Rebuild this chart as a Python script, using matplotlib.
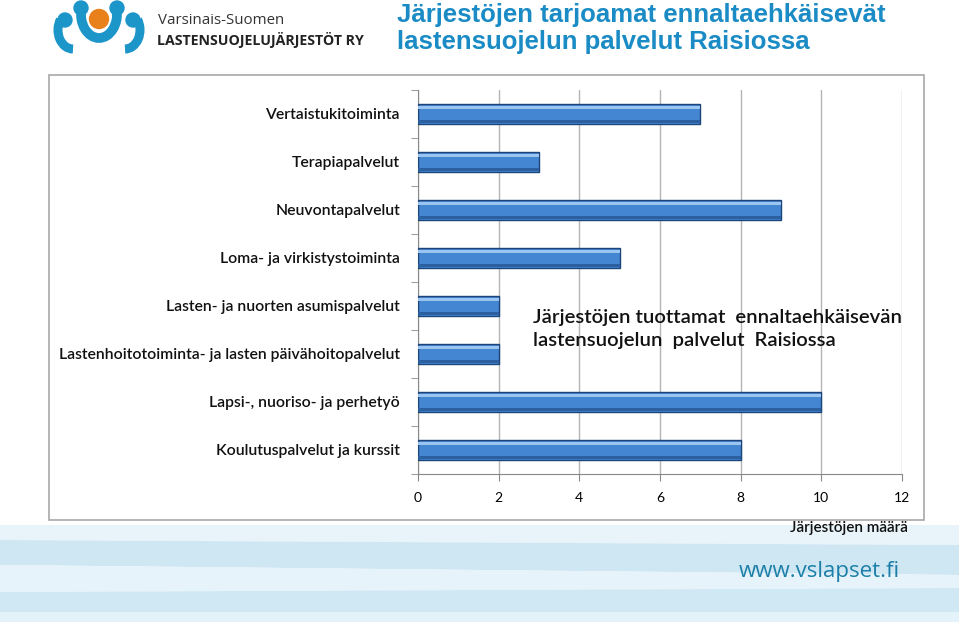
import numpy as np
import matplotlib.pyplot as plt
from matplotlib import font_manager
from matplotlib.patches import Circle, Polygon, Rectangle, Arc

#------------------------------------ Data -------------------------------------
categories = ["Vertaistukitoiminta",
              "Terapiapalvelut",
              "Neuvontapalvelut",
              "Loma- ja virkistystoiminta",
              "Lasten- ja nuorten asumispalvelut",
              "Lastenhoitotoiminta- ja lasten päivähoitopalvelut",
              "Lapsi-, nuoriso- ja perhetyö",
              "Koulutuspalvelut ja kurssit"]
counts = [7, 3, 9, 5, 2, 2, 10, 8]
x_ticks = [0, 2, 4, 6, 8, 10, 12]

title_lines = ["Järjestöjen tarjoamat ennaltaehkäisevät",
               "lastensuojelun palvelut Raisiossa"]
note = "Järjestöjen tuottamat  ennaltaehkäisevän\nlastensuojelun  palvelut  Raisiossa"
xlabel = "Järjestöjen määrä"

#------------------------------------ Style ------------------------------------
blue_title = "#1a8bc4"
bar_color = "#4586d2"
bar_edge = "#1d4478"
bar_light = "#9cc4f0"
grid_color = "#b4b4b4"
W, H = 959, 622

# narrow font for the logo text, if there is one
try:
    font_manager.findfont("Liberation Sans Narrow", fallback_to_default=False)
    narrow = "Liberation Sans Narrow"
    narrow_size = 12
except Exception:
    narrow = "Open Sans"
    narrow_size = 10.2

fig = plt.figure(figsize=(W / 100, H / 100), dpi=100)
fig.patch.set_facecolor("white")

# background layer in pixel coordinates (y grows down)
bg = fig.add_axes((0, 0, 1, 1), zorder=-5)
bg.set_xlim(0, W)
bg.set_ylim(H, 0)
bg.axis("off")
bands = [([0, 525, W, 525, W, 545, 0, 540], "#e8f4fa"),
         ([0, 540, W, 545, W, 575, 0, 565], "#cfe7f3"),
         ([0, 565, W, 575, W, 588, 0, 592], "#e6f3fa"),
         ([0, 592, W, 588, W, 612, 0, 612], "#d0e8f4"),
         ([0, 612, W, 612, W, H, 0, H], "#e4f2f9")]
for pts, col in bands:
    bg.add_patch(Polygon(np.array(pts).reshape(-1, 2), closed=True,
                         facecolor=col, edgecolor="none"))

# chart frame
bg.add_patch(Rectangle((49, 75), 875, 445, facecolor="white",
                       edgecolor="#a8a8a8", linewidth=1.2))

# logo (y inverted here, so theta=90 points down)
logo_blue = "#1c95c9"
bg.add_patch(Circle((99, 19), 9.5, color="#e8801c"))
for cx, cy, r in [(81, 8, 7), (117, 8, 7), (65, 20, 7), (133, 20, 7)]:
    bg.add_patch(Circle((cx, cy), r, color=logo_blue))
bg.add_patch(Arc((99, 14), 36, 48, theta1=-15, theta2=195,
                 color=logo_blue, linewidth=7))
bg.add_patch(Arc((73, 30), 30, 38, theta1=90, theta2=220,
                 color=logo_blue, linewidth=6.5))
bg.add_patch(Arc((125, 30), 30, 38, theta1=-40, theta2=90,
                 color=logo_blue, linewidth=6.5))
bg.text(158, 20, "Varsinais-Suomen", fontsize=10.8, family="Open Sans",
        color="#333333", va="center")
bg.text(157, 40, "LASTENSUOJELUJÄRJESTÖT RY", fontsize=narrow_size,
        family=narrow, color="#222222", va="center", fontweight="bold")

# titles
for i, line in enumerate(title_lines):
    bg.text(397, 15 + 27 * i, line, fontsize=18.5, family="Liberation Sans",
            fontweight="bold", color=blue_title, va="center")
bg.text(900, 572, "www.vslapset.fi", fontsize=16, family="Open Sans",
        color="#1b7fa8", ha="right", va="center")

#------------------------------------ Chart ------------------------------------
ax = fig.add_axes((418 / W, (H - 474) / H, 484 / W, 384 / H))
y = np.arange(len(categories))
ax.barh(y, counts, height=0.4, color=bar_color, edgecolor=bar_edge,
        linewidth=1.0, zorder=3)
ax.barh(y - 0.14, counts, height=0.07, color=bar_light, edgecolor="none",
        zorder=4)
ax.barh(y + 0.155, counts, height=0.06, color="#2c5f9f", edgecolor="none",
        zorder=4)

ax.set_xlim(0, 12)
ax.set_ylim(len(categories) - 0.5, -0.5)
ax.set_xticks(x_ticks)
ax.set_xticklabels([str(t) for t in x_ticks], family="Lato", fontsize=10)
ax.set_yticks(y)
ax.set_yticklabels(categories, family="Lato", fontsize=11.3,
                   fontweight="semibold", color="#111111")
ax.set_yticks(np.arange(len(categories) + 1) - 0.5, minor=True)
ax.tick_params(axis="y", which="major", length=0, pad=13)
ax.tick_params(axis="y", which="minor", length=5, color="#888888")
ax.tick_params(axis="x", length=5, color="#888888", pad=8)
ax.grid(axis="x", color=grid_color, linewidth=1, zorder=0)
for s in ["top", "right"]:
    ax.spines[s].set_visible(False)
for s in ["left", "bottom"]:
    ax.spines[s].set_color("#888888")
ax.set_facecolor("none")

fig.text(533 / W, 1 - 329 / H, note, ha="left", va="center",
         fontsize=14.6, family="Lato", fontweight="semibold", color="#111111",
         linespacing=1.45, zorder=6)
fig.text(908 / W, 1 - 528 / H, xlabel, ha="right", va="center",
         fontsize=11, family="Lato", fontweight="semibold", color="#111111")

fig.savefig("out.png", dpi=100)
